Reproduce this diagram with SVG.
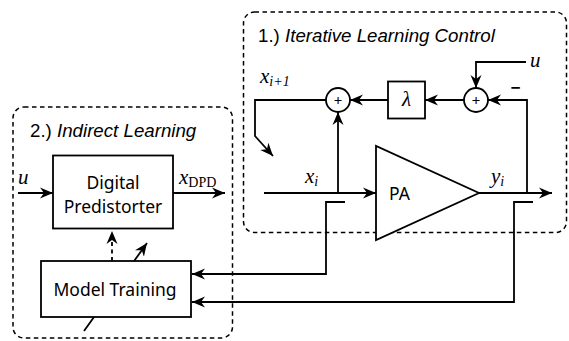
<svg xmlns="http://www.w3.org/2000/svg" width="569" height="341" viewBox="0 0 569 341">
<style>
.ln{fill:none;stroke:#000;stroke-width:1.8}
.box{fill:#fff;stroke:#000;stroke-width:1.8}
.grp{fill:none;stroke:#000;stroke-width:1.5;stroke-dasharray:4.5 3.5}
.ttl{font-family:"Liberation Sans",Arial,sans-serif;font-size:18.7px;fill:#000}
.lbl{font-family:"Noto Sans","Open Sans",sans-serif;font-size:17.5px;fill:#000}
.math{font-family:"Liberation Serif","DejaVu Serif",serif;font-style:italic;font-size:21px;fill:#000}
.sub{font-family:"Liberation Serif","DejaVu Serif",serif;font-size:14px;fill:#000}
.plus{font-family:"Noto Sans","DejaVu Sans",sans-serif;font-size:15px;fill:#000}
</style>
<defs>
<marker id="arr" viewBox="-13 -6 14 12" refX="0" refY="0" markerWidth="14" markerHeight="12" orient="auto" markerUnits="userSpaceOnUse">
<path d="M0,0 L-13,-5.5 L-9,0 L-13,5.5 Z" fill="#000"/>
</marker>
</defs>
<g id="group-ilc">
<rect class="grp" x="243.5" y="12" width="323" height="220.5" rx="11"/>
<text class="ttl" x="258" y="42">1.) <tspan font-style="italic">Iterative Learning Control</tspan></text>
</g>
<g id="group-indirect">
<rect class="grp" x="13" y="107" width="219.5" height="231" rx="11"/>
<text class="ttl" x="30" y="137">2.) <tspan font-style="italic">Indirect Learning</tspan></text>
</g>
<g id="connectors">
<line class="ln" x1="18" y1="193" x2="53" y2="193" marker-end="url(#arr)"/>
<line class="ln" x1="173" y1="193" x2="225" y2="193" marker-end="url(#arr)"/>
<line class="ln" x1="112" y1="261" x2="112" y2="231" stroke-dasharray="4 3.5" marker-end="url(#arr)"/>
<line class="ln" x1="84" y1="331" x2="147" y2="243" marker-end="url(#arr)"/>
<polyline class="ln" points="345,202 326,202 326,274 192,274" marker-end="url(#arr)"/>
<polyline class="ln" points="533,202 514,202 514,302 192,302" marker-end="url(#arr)"/>
<line class="ln" x1="264" y1="193" x2="376" y2="193" marker-end="url(#arr)"/>
<line class="ln" x1="338" y1="193" x2="338" y2="112" marker-end="url(#arr)"/>
<line class="ln" x1="479" y1="193" x2="552" y2="193" marker-end="url(#arr)"/>
<polyline class="ln" points="527,193 527,100 488,100" marker-end="url(#arr)"/>
<polyline class="ln" points="526,62 476,62 476,88" marker-end="url(#arr)"/>
<line class="ln" x1="464" y1="100" x2="425" y2="100" marker-end="url(#arr)"/>
<line class="ln" x1="388" y1="100" x2="350" y2="100" marker-end="url(#arr)"/>
<polyline class="ln" points="326,100 255,100 255,136 273,156" marker-end="url(#arr)"/>
</g>
<g id="label-u-dp"><text class="math" x="18" y="184">u</text></g>
<g id="label-xdpd"><text class="math" x="179" y="184">x<tspan class="sub" font-style="normal" dy="3">DPD</tspan></text></g>
<g id="label-xi1"><text class="math" x="260" y="83">x<tspan class="sub" dy="3">i+1</tspan></text></g>
<g id="label-xi"><text class="math" x="305" y="183">x<tspan class="sub" dy="3">i</tspan></text></g>
<g id="label-yi"><text class="math" x="491" y="183">y<tspan class="sub" dy="3">i</tspan></text></g>
<g id="label-u-ilc"><text class="math" x="530" y="67">u</text></g>
<g id="label-minus"><text class="lbl" x="515.5" y="94" text-anchor="middle" font-weight="bold">−</text></g>
<g id="dpd">
<rect class="box" x="53" y="155.5" width="120" height="73"/>
<text class="lbl" x="113" y="189" text-anchor="middle">Digital</text>
<text class="lbl" x="113" y="213" text-anchor="middle">Predistorter</text>
</g>
<g id="model-training">
<rect class="box" x="41" y="261" width="150" height="56"/>
<text class="lbl" x="115" y="296" text-anchor="middle">Model Training</text>
</g>
<g id="pa">
<polygon class="box" points="376,146 376,240 479,193"/>
<text class="lbl" x="389" y="200" font-size="18">PA</text>
</g>
<g id="sum1">
<circle class="box" cx="338" cy="100" r="12"/>
<text class="plus" x="338" y="105.5" text-anchor="middle">+</text>
</g>
<g id="lambda">
<rect class="box" x="388" y="81.5" width="37" height="37"/>
<text class="math" x="406.5" y="106" text-anchor="middle">λ</text>
</g>
<g id="sum2">
<circle class="box" cx="476" cy="100" r="12"/>
<text class="plus" x="476" y="105.5" text-anchor="middle">+</text>
</g>
</svg>
